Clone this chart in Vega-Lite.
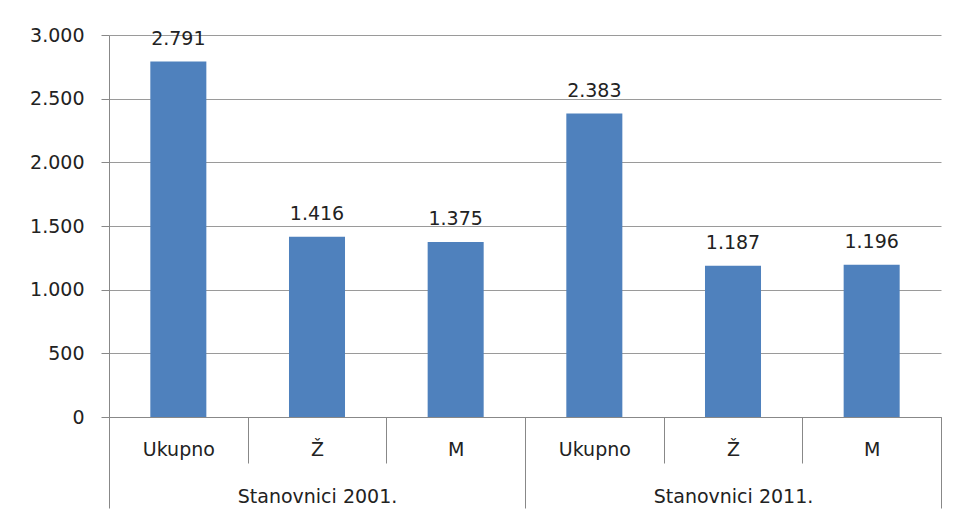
{
  "$schema": "https://vega.github.io/schema/vega-lite/v6.json",
  "width": 832,
  "height": 382,
  "autosize": {"type": "none"},
  "padding": {"left": 109, "top": 35, "right": 20, "bottom": 99},
  "background": "white",
  "config": {
    "view": {"stroke": null},
    "locale": {"number": {"decimal": ",", "thousands": ".", "grouping": [3], "currency": ["", ""]}},
    "font": "DejaVu Sans"
  },
  "data": {
    "values": [
      {"key": "2001|Ukupno", "sub": "Ukupno", "group": "Stanovnici 2001.", "value": 2791},
      {"key": "2001|Ž", "sub": "Ž", "group": "Stanovnici 2001.", "value": 1416},
      {"key": "2001|M", "sub": "M", "group": "Stanovnici 2001.", "value": 1375},
      {"key": "2011|Ukupno", "sub": "Ukupno", "group": "Stanovnici 2011.", "value": 2383},
      {"key": "2011|Ž", "sub": "Ž", "group": "Stanovnici 2011.", "value": 1187},
      {"key": "2011|M", "sub": "M", "group": "Stanovnici 2011.", "value": 1196}
    ]
  },
  "resolve": {"scale": {"x": "independent"}, "axis": {"x": "independent"}},
  "layer": [
    {
      "encoding": {
        "x": {
          "field": "key", "type": "nominal", "sort": null,
          "scale": {"paddingInner": 0, "paddingOuter": 0},
          "axis": {
            "orient": "bottom", "title": null, "labelAngle": 0,
            "labelExpr": "split(datum.label, '|')[1]",
            "tickBand": "extent", "tickSize": 46, "tickColor": "#888", "tickWidth": 1,
            "domainColor": "#888", "labelPadding": -8, "labelBaseline": "alphabetic",
            "labelFontSize": 19, "labelColor": "#222", "labelFont": "DejaVu Sans"
          }
        },
        "y": {
          "field": "value", "type": "quantitative",
          "scale": {"domain": [0, 3000], "nice": false},
          "axis": {
            "title": null, "values": [0, 500, 1000, 1500, 2000, 2500, 3000],
            "format": ",d", "grid": true, "gridColor": "#9a9a9a",
            "domainColor": "#888", "tickColor": "#888", "tickSize": 8,
            "labelPadding": 17, "labelFontSize": 19, "labelColor": "#222",
            "labelFont": "DejaVu Sans"
          }
        }
      },
      "layer": [
        {"mark": {"type": "bar", "color": "#4f81bd", "width": {"band": 0.404}}},
        {
          "mark": {"type": "text", "baseline": "alphabetic", "dy": -17, "fontSize": 19, "color": "#222", "font": "DejaVu Sans"},
          "encoding": {"text": {"field": "value", "type": "quantitative", "format": ",d"}}
        }
      ]
    },
    {
      "mark": {"type": "point", "opacity": 0},
      "encoding": {
        "x": {
          "field": "group", "type": "nominal", "sort": null,
          "scale": {"paddingInner": 0, "paddingOuter": 0},
          "axis": {
            "orient": "bottom", "title": null, "labelAngle": 0, "domain": false,
            "tickBand": "extent", "tickSize": 91, "tickColor": "#888", "tickWidth": 1,
            "labelPadding": -6, "labelBaseline": "alphabetic",
            "labelFontSize": 19, "labelColor": "#222", "labelFont": "DejaVu Sans"
          }
        }
      }
    }
  ]
}
